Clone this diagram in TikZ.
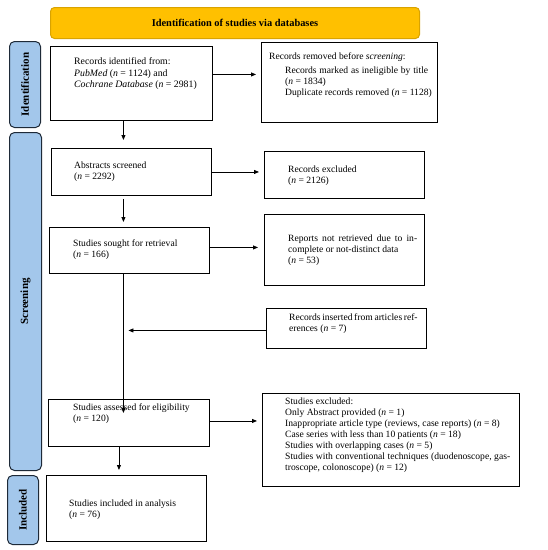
\documentclass[tikz,border=0pt]{standalone}
\usepackage{fontspec}
\setmainfont{Liberation Serif}
\usepackage{tikz}
\usetikzlibrary{arrows.meta, positioning}

\definecolor{hdrfill}{HTML}{FFC000}
\definecolor{hdrline}{HTML}{D9A300}
\definecolor{barfill}{HTML}{A3C7EB}
\definecolor{barline}{HTML}{1E2A38}

\begin{document}
\begin{tikzpicture}[x=1pt, y=-1pt,
        box/.style={draw, line width=0.9pt, anchor=north west, inner sep=0pt},
        txt/.style={anchor=west, align=left, inner sep=0pt, font=\fontsize{9.6}{11}\selectfont},
        bar/.style={draw=barline, fill=barfill, line width=1pt, rounded corners=5pt,
            anchor=north west, inner sep=0pt},
        barlabel/.style={rotate=90, font=\fontsize{11}{12}\selectfont\bfseries},
        arr/.style={-{Triangle[length=5pt,width=4pt]}, line width=0.8pt}]
    \useasboundingbox (0,0) rectangle (548,550);

    % header and phase bars
    \node[draw=hdrline, fill=hdrfill, line width=1pt, rounded corners=4pt, anchor=north west,
        minimum width=369, minimum height=31, font=\fontsize{10.4}{12}\selectfont\bfseries]
        (head) at (50,7) {Identification of studies via databases};
    \node[bar, minimum width=31, minimum height=86] (idbar) at (9,41) {};
    \node[bar, minimum width=32, minimum height=338] (scrbar) at (9,132) {};
    \node[bar, minimum width=31, minimum height=69] (incbar) at (7,475) {};
    \node[barlabel] (idlabel) at (idbar.center) {Identification};
    \node[barlabel] (scrlabel) at (scrbar.center) {Screening};
    \node[barlabel] (inclabel) at (incbar.center) {Included};

    % main column
    \node[box, minimum width=162, minimum height=74] (rec) at (50,46) {};
    \node[box, minimum width=160, minimum height=47] (abstr) at (51,148) {};
    \node[box, minimum width=160, minimum height=46] (sought) at (49,227) {};
    \node[box, minimum width=161, minimum height=47] (assess) at (48,399) {};
    \node[box, minimum width=160, minimum height=66] (incl) at (46,475) {};

    \node[txt, font=\fontsize{9.8}{11.5}\selectfont] (rec-t) at (74,74)
        {Records identified from:\\ \textit{PubMed} (\textit{n} = 1124) and\\
         \textit{Cochrane Database} (\textit{n} = 2981)};
    \node[txt] (abstr-t) at (74,172) {Abstracts screened\\ (\textit{n} = 2292)};
    \node[txt] (sought-t) at (73,250) {Studies sought for retrieval\\ (\textit{n} = 166)};
    \node[txt] (assess-t) at (73,414) {Studies assessed for eligibility\\ (\textit{n} = 120)};
    \node[txt] (incl-t) at (69,510) {Studies included in analysis\\ (\textit{n} = 76)};

    % side column
    \node[box, minimum width=176, minimum height=80] (removed) at (261,42) {};
    \node[box, minimum width=160, minimum height=47] (excl) at (264,151) {};
    \node[box, minimum width=160, minimum height=71] (notret) at (264,214) {};
    \node[box, minimum width=160, minimum height=40] (insert) at (266,308) {};
    \node[box, minimum width=257, minimum height=93] (excl2) at (262,393) {};

    \node[txt] (removed-t) at (269,75)
        {Records removed before \textit{screening}:\\[3pt]
         \hspace*{16pt}\makebox[143pt][s]{Records marked as ineligible by title}\\
         \hspace*{16pt}(\textit{n} = 1834)\\
         \hspace*{16pt}Duplicate records removed (\textit{n} = 1128)};
    \node[txt] (excl-t) at (288,176) {Records excluded\\ (\textit{n} = 2126)};
    \node[txt] (notret-t) at (288,250)
        {\makebox[129pt][s]{Reports not retrieved due to in-}\\ complete or not-distinct data\\ (\textit{n} = 53)};
    \node[txt] (insert-t) at (289,324)
        {\makebox[128pt][s]{Records inserted from articles ref-}\\ erences (\textit{n} = 7)};
    \node[txt] (excl2-t) at (285,435)
        {Studies excluded:\\
         Only Abstract provided (\textit{n} = 1)\\
         Inappropriate article type (reviews, case reports) (\textit{n} = 8)\\
         Case series with less than 10 patients (\textit{n} = 18)\\
         Studies with overlapping cases (\textit{n} = 5)\\
         \makebox[225pt][s]{Studies with conventional techniques (duodenoscope, gas-}\\
         troscope, colonoscope) (\textit{n} = 12)};

    % connectors
    \coordinate (spine) at ([xshift=-6pt]sought.south);
    \draw[arr, shorten >=8pt] ([xshift=-8pt]rec.south) -- ([xshift=-8pt]rec.south |- abstr.north);
    \draw[arr, shorten <=3pt, shorten >=5pt] ([xshift=-8pt]abstr.south) -- ([xshift=-8pt]abstr.south |- sought.north);
    \draw[arr, shorten >=-14pt] (spine) -- (spine |- assess.north);
    \draw[arr, shorten >=5pt] ([xshift=-10pt]assess.south) -- ([xshift=-10pt]assess.south |- incl.north);

    \draw[arr, shorten >=5pt] ([yshift=9pt]rec.east) -- ([yshift=9pt]rec.east -| removed.west);
    \draw[arr, shorten >=5pt] (abstr.east) -- (abstr.east -| excl.west);
    \draw[arr, shorten >=6pt] ([yshift=3pt]sought.east) -- ([yshift=3pt]sought.east -| notret.west);
    \draw[arr, shorten >=5pt] ([yshift=-2pt]insert.west) -- ([yshift=-2pt]insert.west -| spine);
    \draw[arr, shorten >=5pt] ([yshift=2pt]assess.east) -- ([yshift=2pt]assess.east -| excl2.west);
\end{tikzpicture}
\end{document}
